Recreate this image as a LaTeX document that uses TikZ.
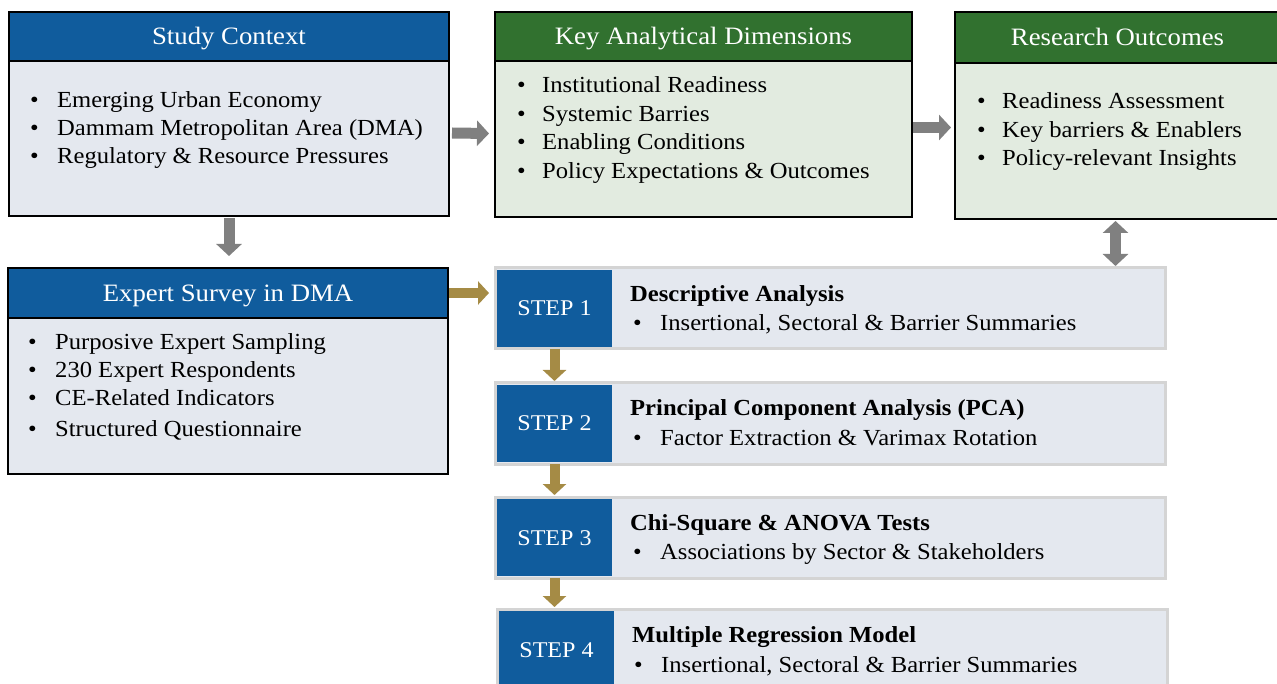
\documentclass[tikz,border=0pt]{standalone}
\usepackage{fontspec}
\setmainfont[FakeStretch=1.07]{Liberation Serif}
\usetikzlibrary{arrows.meta}
\definecolor{hblue}{HTML}{105C9D}
\definecolor{hgreen}{HTML}{31712F}
\definecolor{bodyblue}{HTML}{E4E8EF}
\definecolor{bodygreen}{HTML}{E2EBE0}
\definecolor{arrowgray}{HTML}{808080}
\definecolor{gold}{HTML}{A58B45}
\definecolor{stepborder}{HTML}{D4D4D4}
\tikzset{
  x=1pt,y=-1pt,
  panel/.style={draw=black,line width=2.5pt,anchor=north west,inner sep=0pt,outer sep=0pt},
  hdr/.style={panel,text=white,text height=22pt,text depth=5pt,font=\fontsize{25}{30}\selectfont},
  item/.style={anchor=west,inner sep=0pt,text height=19pt,text depth=5pt,font=\fontsize{23}{28}\selectfont},
  steptitle/.style={item,font=\fontsize{23}{28}\selectfont\bfseries},
  stepbox/.style={draw=stepborder,fill=bodyblue,line width=3pt,anchor=north west,inner sep=0pt,outer sep=0pt,minimum width=670pt,minimum height=81pt},
  steplabel/.style={fill=hblue,text=white,anchor=north west,inner sep=0pt,outer sep=0pt,minimum width=115pt,minimum height=77pt,text height=20pt,text depth=5pt,font=\fontsize{22.5}{27}\selectfont},
  grayarrow/.style={draw=arrowgray,line width=11pt,-{Triangle[width=25pt,length=12pt]}},
  graydouble/.style={draw=arrowgray,line width=11pt,{Triangle[width=25pt,length=12pt]}-{Triangle[width=25pt,length=12pt]}},
  goldarrow/.style={draw=gold,line width=10pt,-{Triangle[width=23pt,length=11pt]}},
}
\newcommand{\bul}[1]{\makebox[#1][l]{\textbullet}}
\begin{document}
\begin{tikzpicture}
\useasboundingbox (0,0) rectangle (1277,684);
\clip (0,0) rectangle (1277,684);

% Study Context
\node[panel,fill=bodyblue,minimum width=440pt,minimum height=204pt] (sc) at (9,12) {};
\node[hdr,fill=hblue,minimum width=440pt,minimum height=49pt] (sch) at (9,12) {Study Context};
\node[item] (sc1) at (30,101) {\bul{27pt}Emerging Urban Economy};
\node[item] (sc2) at (30,129) {\bul{27pt}Dammam Metropolitan Area (DMA)};
\node[item] (sc3) at (30,157) {\bul{27pt}Regulatory \& Resource Pressures};

% Key Analytical Dimensions
\node[panel,fill=bodygreen,minimum width=417pt,minimum height=205pt] (kad) at (495,12) {};
\node[hdr,fill=hgreen,minimum width=417pt,minimum height=49pt] (kadh) at (495,12) {Key Analytical Dimensions};
\node[item] (kad1) at (517,86) {\bul{25pt}Institutional Readiness};
\node[item] (kad2) at (517,115) {\bul{25pt}Systemic Barries};
\node[item] (kad3) at (517,143) {\bul{25pt}Enabling Conditions};
\node[item] (kad4) at (517,172) {\bul{25pt}Policy Expectations \& Outcomes};

% Research Outcomes
\node[panel,fill=bodygreen,minimum width=325pt,minimum height=207pt] (ro) at (955,12) {};
\node[hdr,fill=hgreen,minimum width=325pt,minimum height=51pt] (roh) at (955,12) {Research Outcomes};
\node[item] (ro1) at (977,102) {\bul{25pt}Readiness Assessment};
\node[item] (ro2) at (977,131) {\bul{25pt}Key barriers \& Enablers};
\node[item] (ro3) at (977,159) {\bul{25pt}Policy-relevant Insights};

% Expert Survey
\node[panel,fill=bodyblue,minimum width=440pt,minimum height=206pt] (es) at (8,268) {};
\node[hdr,fill=hblue,minimum width=440pt,minimum height=50pt] (esh) at (8,268) {Expert Survey in DMA};
\node[item] (es1) at (28,343) {\bul{27pt}Purposive Expert Sampling};
\node[item] (es2) at (28,371) {\bul{27pt}230 Expert Respondents};
\node[item] (es3) at (28,399) {\bul{27pt}CE-Related Indicators};
\node[item] (es4) at (28,429) {\bul{27pt}Structured Questionnaire};

% Steps
\node[stepbox] (s1) at (495,268) {};
\node[steplabel] (s1b) at (497,270) {STEP 1};
\node[steptitle] (s1t) at (630,295) {Descriptive Analysis};
\node[item] (s1i) at (633,324) {\bul{27pt}Insertional, Sectoral \& Barrier Summaries};

\node[stepbox] (s2) at (495,383) {};
\node[steplabel] (s2b) at (497,385) {STEP 2};
\node[steptitle] (s2t) at (630,409) {Principal Component Analysis (PCA)};
\node[item] (s2i) at (633,438) {\bul{27pt}Factor Extraction \& Varimax Rotation};

\node[stepbox] (s3) at (495,497) {};
\node[steplabel] (s3b) at (497,499) {STEP 3};
\node[steptitle] (s3t) at (630,523) {Chi-Square \& ANOVA Tests};
\node[item] (s3i) at (633,552) {\bul{27pt}Associations by Sector \& Stakeholders};

\node[stepbox] (s4) at (497,609) {};
\node[steplabel] (s4b) at (499,611) {STEP 4};
\node[steptitle] (s4t) at (632,635) {Multiple Regression Model};
\node[item] (s4i) at (634,665) {\bul{27pt}Insertional, Sectoral \& Barrier Summaries};

% Arrows
\draw[grayarrow] ([xshift=3pt,yshift=-19pt]sc.east) -- ([xshift=-6pt,yshift=-19pt]kad.west);
\draw[grayarrow] ([xshift=1pt,yshift=-13pt]kad.east) -- ([xshift=-4pt,yshift=-13pt]kad.east -| ro.west);
\draw[grayarrow] ([yshift=-2pt]sc.south) -- ([yshift=12pt]sc.south |- es.north);
\draw[graydouble] ([xshift=-2pt,yshift=-2pt]ro.south) -- ([xshift=-2pt,yshift=2pt]ro.south |- s1.north);
\draw[goldarrow] ([xshift=1pt]esh.east) -- ([xshift=-6pt]esh.east -| s1.west);
\draw[goldarrow] ([yshift=-2pt]s1b.south) -- ([yshift=4pt]s2b.north);
\draw[goldarrow] ([yshift=-2pt]s2b.south) -- ([yshift=4pt]s3b.north);
\draw[goldarrow] ([yshift=-2pt]s3b.south) -- ([yshift=4pt]s3b.south |- s4b.north);
\end{tikzpicture}
\end{document}
